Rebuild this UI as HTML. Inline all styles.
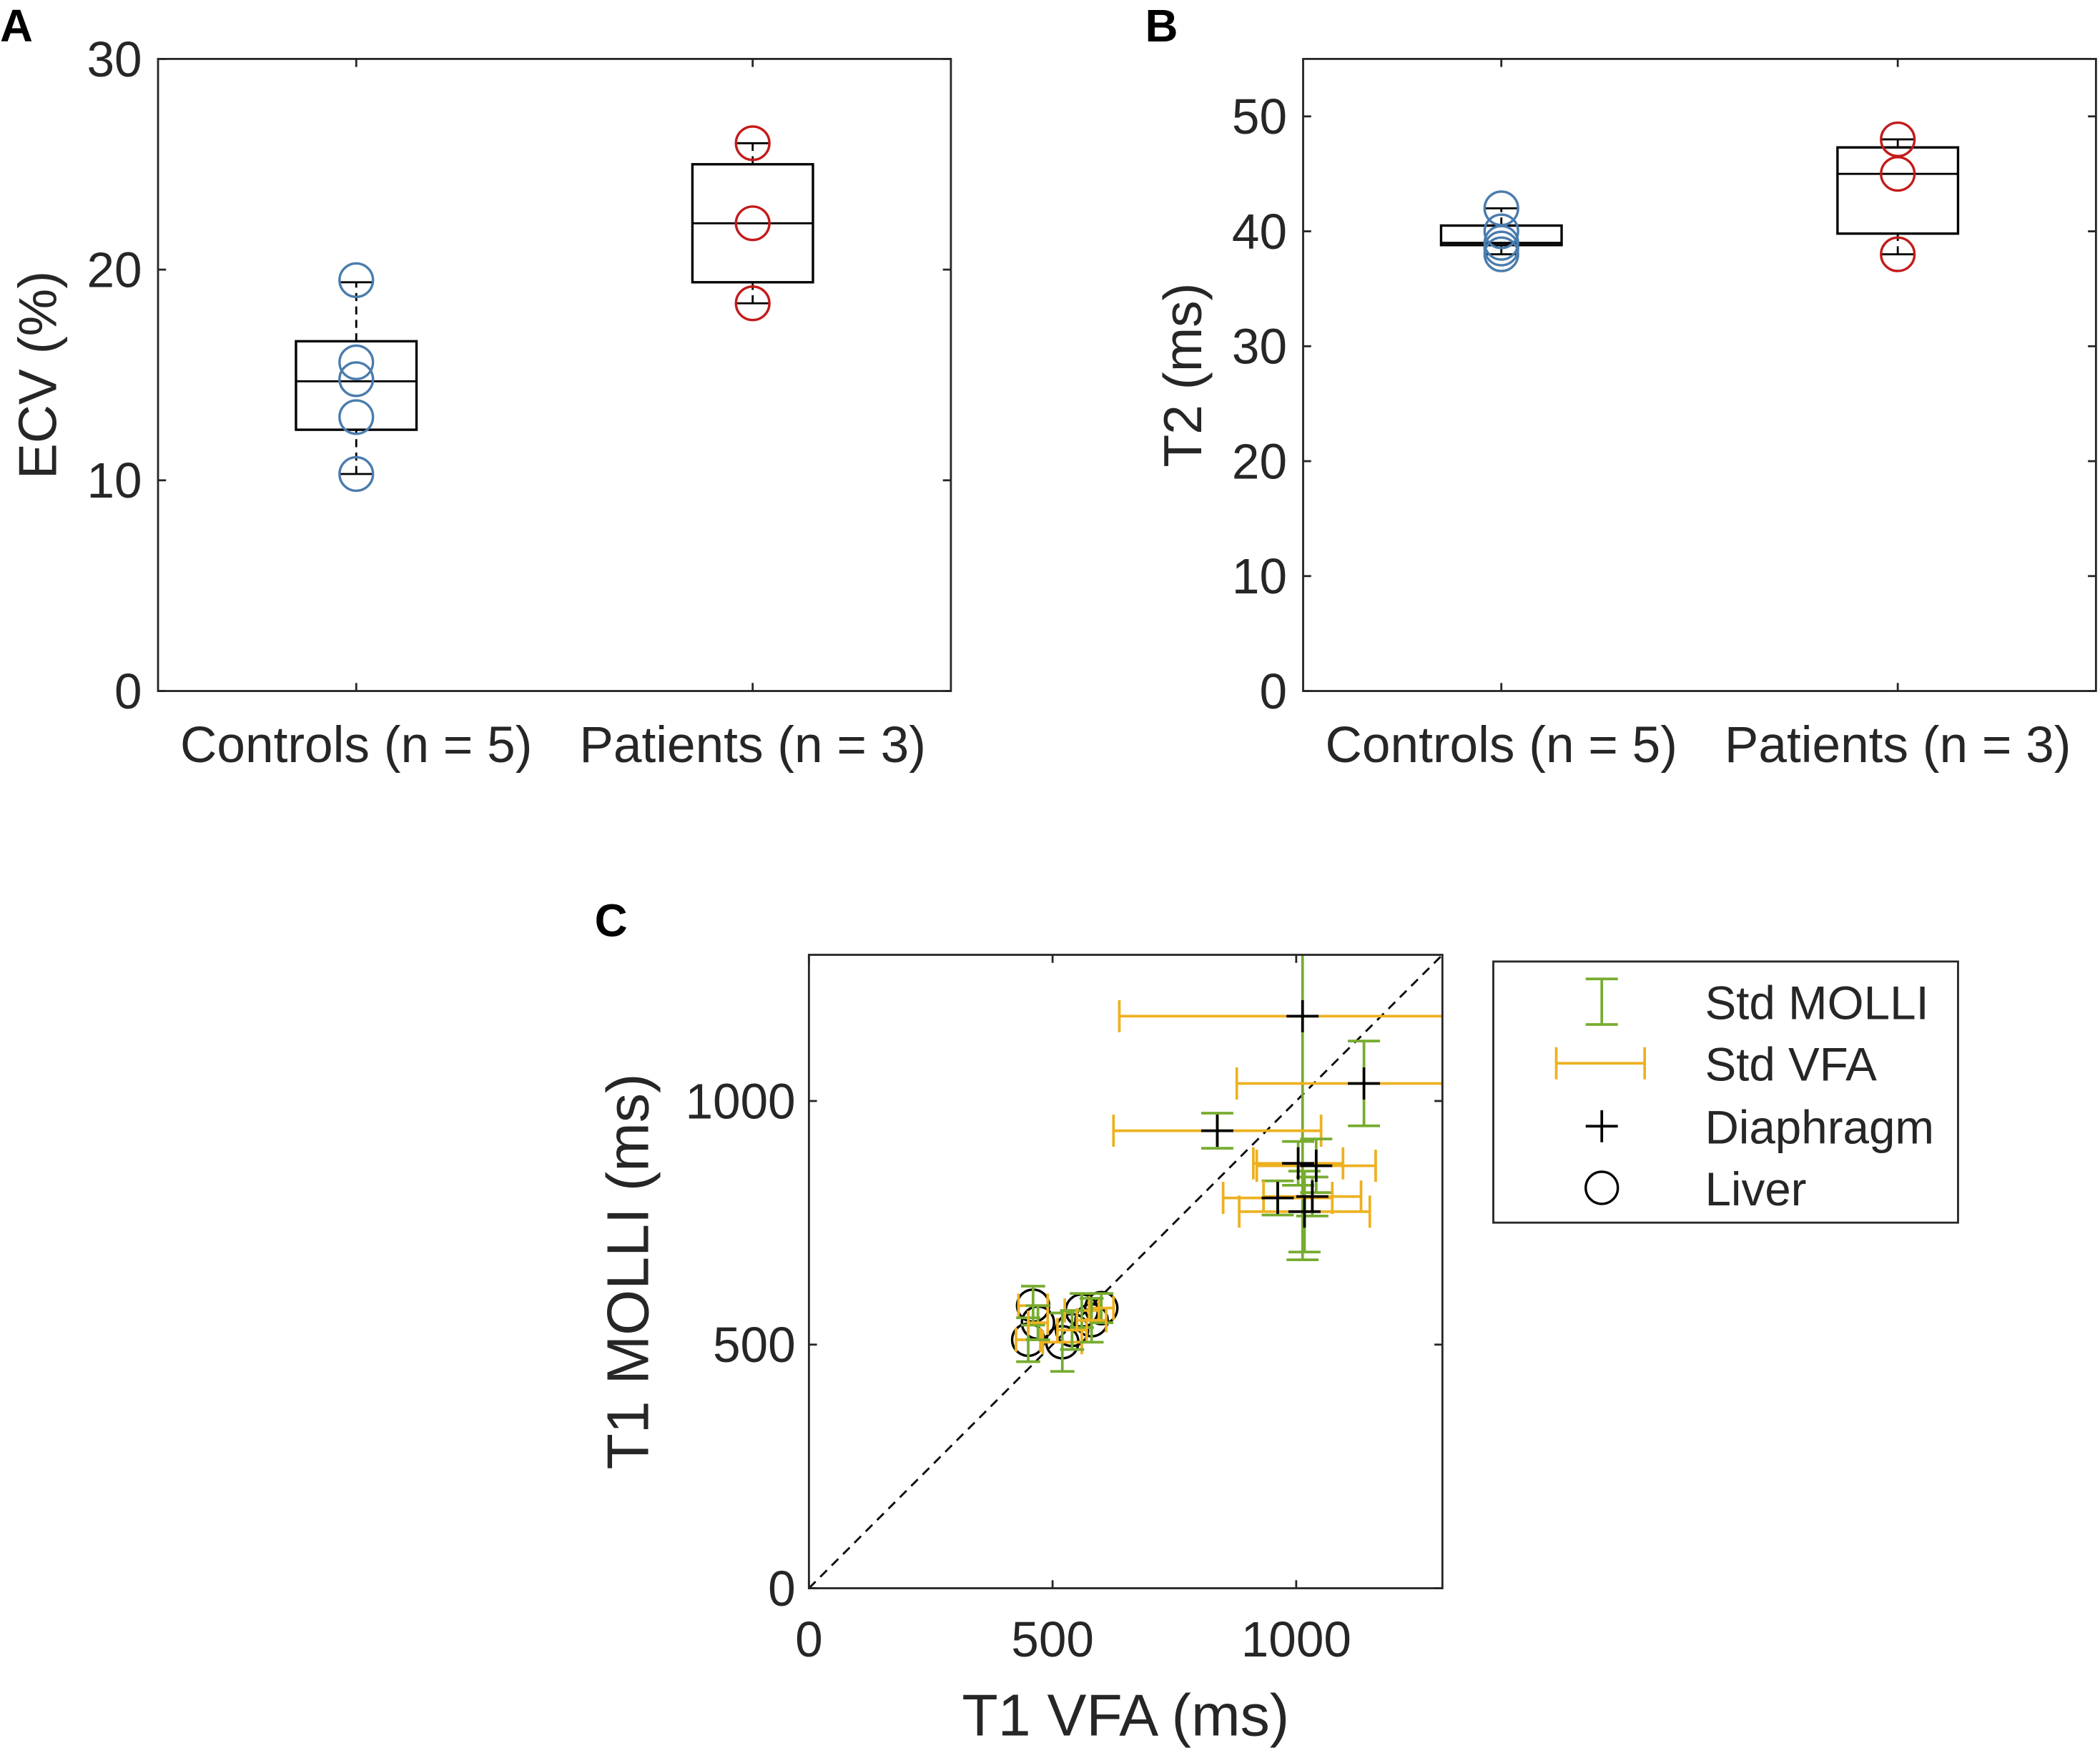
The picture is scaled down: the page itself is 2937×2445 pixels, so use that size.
<!DOCTYPE html>
<html><head><meta charset="utf-8"><style>
html,body{margin:0;padding:0;background:#fff;}
svg{display:block;font-family:"Liberation Sans",Arial,sans-serif;}
</style></head><body>
<svg id="fig" width="2937" height="2445" viewBox="0 0 1568 1305.3" preserveAspectRatio="none" xmlns="http://www.w3.org/2000/svg">
<rect width="1568" height="1306" fill="#fff"/>
<g id="gA"></g>
<g id="gB"></g>
<g id="gC"></g>
</svg>
<script>
// Panel A/B data
const boxCats = ["Controls (n = 5)", "Patients (n = 3)"];
const ecvControls = [19.5, 15.6, 14.8, 13.0, 10.3];
const ecvPatients = [26.0, 22.2, 18.4];
const ecvBoxControls = [10.3, 12.4, 14.7, 16.6, 19.4];
const ecvBoxPatients = [18.4, 19.4, 22.2, 25.0, 26.0];
const ecvTicks = [0, 10, 20, 30];
const t2Controls = [42, 40, 39, 38.5, 38];
const t2Patients = [48, 45, 38];
const t2BoxControls = [38, 38.8, 39, 40.5, 42];
const t2BoxPatients = [38, 39.8, 45, 47.3, 48];
const t2Ticks = [0, 10, 20, 30, 40, 50];
// Panel C data
const diaX = [1013, 1139, 838, 1004, 1041, 962, 1033, 1017];
const diaY = [1174, 1036, 939, 872, 867, 801, 804, 773];
const diaErrX = [376, 261, 213, 92, 122, 112, 100, 134];
const diaErrY = [500, 87, 36, 45, 55, 35, 40, 83];
const livX = [460, 450, 520, 560, 600, 540, 470, 580];
const livY = [580, 510, 505, 570, 575, 530, 545, 550];
const livErrX = [30, 25, 40, 35, 25, 30, 20, 30];
const livErrY = [40, 45, 60, 35, 30, 40, 35, 45];
const cTicks = [0, 500, 1000];

const NS = "http://www.w3.org/2000/svg";
function mk(parent, tag, attrs) {
  const e = document.createElementNS(NS, tag);
  for (const k in attrs) e.setAttribute(k, attrs[k]);
  parent.appendChild(e);
  return e;
}
function txt(parent, x, y, s, size, anchor, extra) {
  const t = mk(parent, "text", Object.assign({x: x, y: y, "font-size": size, "text-anchor": anchor, fill: "#262626"}, extra || {}));
  t.textContent = s;
  return t;
}

function boxPanel(g, L, R, T, B, ymax, ticks, ylabel, letter, lx, ptsArr, boxArr, colors) {
  const ys = v => B - v / ymax * (B - T);
  const xs = i => L + (R - L) * (0.25 + 0.5 * i);
  const ax = mk(g, "rect", {x: L, y: T, width: R - L, height: B - T, fill: "none", stroke: "#262626", "stroke-width": 1.5});
  
  
  ticks.forEach(v => {
    mk(g, "line", {x1: L, x2: L + 6, y1: ys(v), y2: ys(v), stroke: "#262626", "stroke-width": 1.5});
    mk(g, "line", {x1: R, x2: R - 6, y1: ys(v), y2: ys(v), stroke: "#262626", "stroke-width": 1.5});
    const t = txt(g, L - 12, ys(v) + 13, String(v), 37, "end");
    
    
  });
  boxCats.forEach((c, i) => {
    mk(g, "line", {x1: xs(i), x2: xs(i), y1: B, y2: B - 6, stroke: "#262626", "stroke-width": 1.5});
    mk(g, "line", {x1: xs(i), x2: xs(i), y1: T, y2: T + 6, stroke: "#262626", "stroke-width": 1.5});
    const t = txt(g, xs(i), B + 53, c, 38, "middle");
    
    
    const b = boxArr[i], x = xs(i), hw = 45, cw = 12;
    const bg = mk(g, "g", {});
    
    
    mk(bg, "line", {x1: x, x2: x, y1: ys(b[0]), y2: ys(b[1]), stroke: "#000", "stroke-width": 1.5, "stroke-dasharray": "6,4"});
    mk(bg, "line", {x1: x, x2: x, y1: ys(b[3]), y2: ys(b[4]), stroke: "#000", "stroke-width": 1.5, "stroke-dasharray": "6,4"});
    mk(bg, "line", {x1: x - cw, x2: x + cw, y1: ys(b[0]), y2: ys(b[0]), stroke: "#000", "stroke-width": 1.5});
    mk(bg, "line", {x1: x - cw, x2: x + cw, y1: ys(b[4]), y2: ys(b[4]), stroke: "#000", "stroke-width": 1.5});
    mk(bg, "rect", {x: x - hw, y: ys(b[3]), width: 2 * hw, height: ys(b[1]) - ys(b[3]), fill: "none", stroke: "#000", "stroke-width": 1.8});
    mk(bg, "line", {x1: x - hw, x2: x + hw, y1: ys(b[2]), y2: ys(b[2]), stroke: "#000", "stroke-width": 1.5});
    ptsArr[i].forEach(v => {
      const p = mk(g, "circle", {cx: x, cy: ys(v), r: 12.5, fill: "none", stroke: colors[i], "stroke-width": 1.8});
      
      
    });
  });
  const yl = txt(g, 0, 0, ylabel, 40, "middle", {transform: "translate(" + lx + "," + ((T + B) / 2) + ") rotate(-90)"});
  
  
  const pl = txt(g, L - 118, 31, letter, 34, "start", {"font-weight": "bold", fill: "#000"});
  
  
}
boxPanel(document.getElementById("gA"), 118, 710, 44, 516, 30, ecvTicks, "ECV (%)", "A", 42, [ecvControls, ecvPatients], [ecvBoxControls, ecvBoxPatients], ["#4a7cad", "#c41a1a"]);
boxPanel(document.getElementById("gB"), 973, 1565, 44, 516, 55, t2Ticks, "T2 (ms)", "B", 897, [t2Controls, t2Patients], [t2BoxControls, t2BoxPatients], ["#4a7cad", "#c41a1a"]);

// Panel C
(function () {
  const g = document.getElementById("gC");
  const L = 604, R = 1077, T = 713, B = 1186, max = 1300;
  const xs = v => L + v / max * (R - L);
  const ys = v => B - v / max * (B - T);
  mk(g, "defs", {}).innerHTML = '<clipPath id="cclip"><rect x="' + L + '" y="' + T + '" width="' + (R - L) + '" height="' + (B - T) + '"/></clipPath>';
  const pg = mk(g, "g", {"clip-path": "url(#cclip)"});
  const diag = mk(pg, "line", {x1: xs(0), y1: ys(0), x2: xs(max), y2: ys(max), stroke: "#000", "stroke-width": 1.5, "stroke-dasharray": "7,5"});
  
  
  const GREEN = "#77ac30", ORANGE = "#edb120";
  function errbars(X, Y, EX, EY, cap) {
    X.forEach((x, i) => {
      const y = Y[i];
      const ev = mk(pg, "g", {stroke: GREEN, "stroke-width": 2});
      
      
      mk(ev, "line", {x1: xs(x), x2: xs(x), y1: ys(y - EY[i]), y2: ys(y + EY[i])});
      mk(ev, "line", {x1: xs(x) - cap, x2: xs(x) + cap, y1: ys(y - EY[i]), y2: ys(y - EY[i])});
      mk(ev, "line", {x1: xs(x) - cap, x2: xs(x) + cap, y1: ys(y + EY[i]), y2: ys(y + EY[i])});
      const eh = mk(pg, "g", {stroke: ORANGE, "stroke-width": 2});
      
      
      mk(eh, "line", {x1: xs(x - EX[i]), x2: xs(x + EX[i]), y1: ys(y), y2: ys(y)});
      mk(eh, "line", {x1: xs(x - EX[i]), x2: xs(x - EX[i]), y1: ys(y) - cap, y2: ys(y) + cap});
      mk(eh, "line", {x1: xs(x + EX[i]), x2: xs(x + EX[i]), y1: ys(y) - cap, y2: ys(y) + cap});
    });
  }
  livX.forEach((x, i) => {
    const c = mk(pg, "circle", {cx: xs(x), cy: ys(livY[i]), r: 12, fill: "none", stroke: "#000", "stroke-width": 1.8});
    
    
  });
  errbars(livX, livY, livErrX, livErrY, 9);
  errbars(diaX, diaY, diaErrX, diaErrY, 12);
  diaX.forEach((x, i) => {
    const p = mk(pg, "path", {d: "M" + (xs(x) - 12) + "," + ys(diaY[i]) + "h24M" + xs(x) + "," + (ys(diaY[i]) - 12) + "v24", stroke: "#000", "stroke-width": 2});
    
    
  });
  const ax = mk(g, "rect", {x: L, y: T, width: R - L, height: B - T, fill: "none", stroke: "#262626", "stroke-width": 1.5});
  
  
  cTicks.forEach(v => {
    mk(g, "line", {x1: xs(v), x2: xs(v), y1: B, y2: B - 6, stroke: "#262626", "stroke-width": 1.5});
    mk(g, "line", {x1: xs(v), x2: xs(v), y1: T, y2: T + 6, stroke: "#262626", "stroke-width": 1.5});
    mk(g, "line", {x1: L, x2: L + 6, y1: ys(v), y2: ys(v), stroke: "#262626", "stroke-width": 1.5});
    mk(g, "line", {x1: R, x2: R - 6, y1: ys(v), y2: ys(v), stroke: "#262626", "stroke-width": 1.5});
    const tx = txt(g, xs(v), B + 51, String(v), 37, "middle");
    
    
    const ty = txt(g, L - 10, ys(v) + 13, String(v), 37, "end");
    
    
  });
  const xl = txt(g, (L + R) / 2, 1296, "T1 VFA (ms)", 44, "middle");
  
  
  const yl = txt(g, 0, 0, "T1 MOLLI (ms)", 44, "middle", {transform: "translate(484," + ((T + B) / 2) + ") rotate(-90)"});
  
  
  const pl = txt(g, 444, 699, "C", 34, "start", {"font-weight": "bold", fill: "#000"});
  
  

  // legend
  const lg = mk(g, "g", {});
  
  
  mk(lg, "rect", {x: 1115, y: 718, width: 347, height: 195, fill: "#fff", stroke: "#262626", "stroke-width": 1.5});
  const ix = 1196;
  const e1 = mk(lg, "g", {stroke: GREEN, "stroke-width": 2});
  
  
  mk(e1, "path", {d: "M" + ix + ",731v34M" + (ix - 12) + ",731h24M" + (ix - 12) + ",765h24"});
  const e2 = mk(lg, "g", {stroke: ORANGE, "stroke-width": 2});
  
  
  mk(e2, "path", {d: "M1162,794h66M1162,782v24M1228,782v24"});
  const e3 = mk(lg, "path", {d: "M" + (ix - 12) + ",841h24M" + ix + ",829v24", stroke: "#000", "stroke-width": 2});
  
  
  const e4 = mk(lg, "circle", {cx: ix, cy: 887, r: 12, fill: "none", stroke: "#000", "stroke-width": 1.8});
  
  
  [["Std MOLLI", 761], ["Std VFA", 807], ["Diaphragm", 854], ["Liver", 900]].forEach(a => {
    const t = txt(lg, 1273, a[1], a[0], 35, "start");
    
    
  });
})();
</script>
</body></html>
